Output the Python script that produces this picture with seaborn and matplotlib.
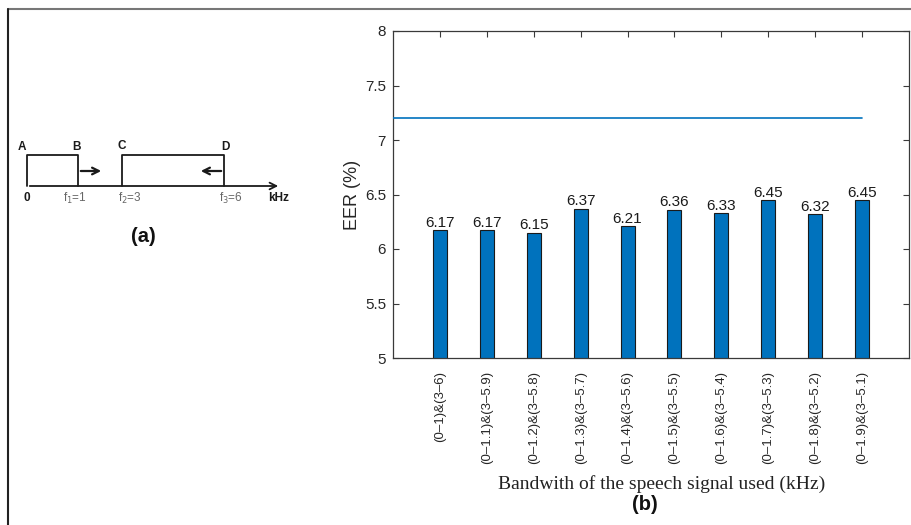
import matplotlib
matplotlib.use("Agg")
import matplotlib.pyplot as plt
import seaborn as sns

# Band combinations (low band & high band, kHz) and the resulting EER values
bands = ["(0–1)&(3–6)", "(0–1.1)&(3–5.9)", "(0–1.2)&(3–5.8)", "(0–1.3)&(3–5.7)",
         "(0–1.4)&(3–5.6)", "(0–1.5)&(3–5.5)", "(0–1.6)&(3–5.4)", "(0–1.7)&(3–5.3)",
         "(0–1.8)&(3–5.2)", "(0–1.9)&(3–5.1)"]
eer = [6.17, 6.17, 6.15, 6.37, 6.21, 6.36, 6.33, 6.45, 6.32, 6.45]
baseline_eer = 7.2
y_ticks = [5, 5.5, 6, 6.5, 7, 7.5, 8]
y_tick_labels = ["5", "5.5", "6", "6.5", "7", "7.5", "8"]

BLUE = "#0072BD"
AX_GRAY = "#3a3a3a"

sns.set_theme(style="white")
plt.rcParams["font.family"] = ["Liberation Sans", "DejaVu Sans"]

fig = plt.figure(figsize=(9.12, 5.25), dpi=100)
W, H = 912, 525

# ---- panel (b): bar chart ----
ax = fig.add_axes([393 / W, 1 - 358 / H, (909 - 393) / W, (358 - 31) / H])
sns.barplot(x=bands, y=eer, color=BLUE, saturation=1, width=0.3,
            edgecolor="#1a1a1a", linewidth=0.8, ax=ax, zorder=2)
ax.plot([-1, len(bands) - 1], [baseline_eer, baseline_eer], color=BLUE, lw=1.2, zorder=3)
for i, v in enumerate(eer):
    ax.text(i, v + 0.004, f"{v:.2f}", ha="center", va="bottom", fontsize=11, color="#1a1a1a")

ax.set_xlim(-1, len(bands))
ax.set_ylim(5, 8)
ax.set_yticks(y_ticks)
ax.set_yticklabels(y_tick_labels, fontsize=11, color="#262626")
ax.set_xticks(range(len(bands)))
ax.set_xticklabels(bands, rotation=90, fontsize=9.5, color="#262626", va="top", ha="center")
ax.tick_params(axis="both", direction="in", length=4, width=0.8, color=AX_GRAY,
               top=True, right=True, bottom=True, left=True, pad=5)
ax.tick_params(axis="x", pad=9)
for s in ax.spines.values():
    s.set_visible(True)
    s.set_color(AX_GRAY)
    s.set_linewidth(0.9)
ax.set_ylabel("EER (%)", fontsize=13, color="#262626", labelpad=3)
ax.set_xlabel("")

# ---- overlay for frame, captions and panel (a) sketch ----
ov = fig.add_axes([0, 0, 1, 1], zorder=-1)
ov.set_xlim(0, W)
ov.set_ylim(H, 0)
ov.axis("off")

ov.plot([8, W], [9, 9], color="#777777", lw=1.5)
ov.plot([8, 8], [9, H], color="#222222", lw=1.5)

fig.text(662 / W, 1 - 484 / H, "Bandwith of the speech signal used (kHz)",
         ha="center", va="center", fontsize=14, family="Liberation Serif", color="#222222")
fig.text(645 / W, 1 - 504 / H, "(b)", ha="center", va="center", fontsize=14.5,
         fontweight="bold", color="#111111")
fig.text(143 / W, 1 - 237 / H, "(a)", ha="center", va="center", fontsize=14.5,
         fontweight="bold", color="#111111")

# sketch of the two pass bands on the frequency axis
k = "#1a1a1a"
y0, ytop, yarr = 186, 155, 171
ov.plot([27, 27, 78, 78], [y0, ytop, ytop, y0], color=k, lw=1.3)
ov.plot([122, 122, 224, 224], [y0, ytop, ytop, y0], color=k, lw=1.3)
ov.annotate("", xy=(281, y0), xytext=(27, y0),
            arrowprops=dict(arrowstyle="->", color=k, lw=1.3, mutation_scale=12))
ov.annotate("", xy=(104, yarr), xytext=(78, yarr),
            arrowprops=dict(arrowstyle="->", color=k, lw=1.6, mutation_scale=12))
ov.annotate("", xy=(198, yarr), xytext=(224, yarr),
            arrowprops=dict(arrowstyle="->", color=k, lw=1.6, mutation_scale=12))

lab = dict(fontsize=8.5, fontweight="bold", color=k, va="center")
ov.text(22, 147, "A", ha="center", **lab)
ov.text(77, 147, "B", ha="center", **lab)
ov.text(122, 146, "C", ha="center", **lab)
ov.text(225, 147, "D", ha="center", **lab)
ov.text(27, 198, "0", ha="center", **lab)
ov.text(268, 198, "kHz", ha="left", **lab)
flab = dict(fontsize=8.5, color="#666666", va="center", ha="left")
ov.text(63, 198, "f$_1$=1", **flab)
ov.text(118, 198, "f$_2$=3", **flab)
ov.text(219, 198, "f$_3$=6", **flab)

fig.savefig("out.png", dpi=100, facecolor="white")
